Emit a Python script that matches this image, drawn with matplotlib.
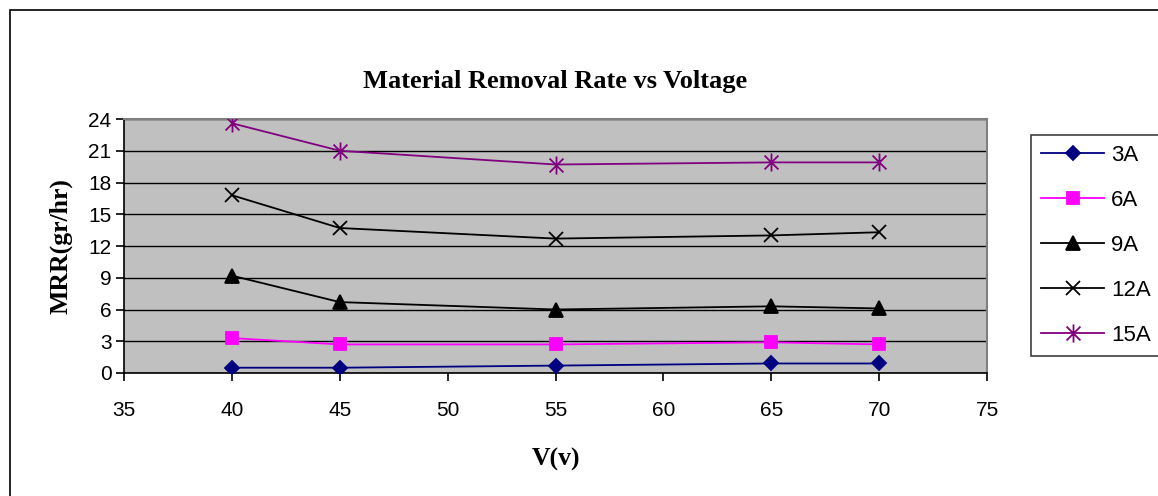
import numpy as np
import matplotlib.pyplot as plt
from matplotlib.path import Path
from matplotlib.patches import Rectangle

voltage = [40, 45, 55, 65, 70]
mrr_3A = [0.5, 0.5, 0.7, 0.9, 0.9]
mrr_6A = [3.3, 2.7, 2.7, 2.9, 2.7]
mrr_9A = [9.2, 6.7, 6.0, 6.3, 6.1]
mrr_12A = [16.8, 13.7, 12.7, 13.0, 13.3]
mrr_15A = [23.6, 21.0, 19.7, 19.9, 19.9]

xticks = [35, 40, 45, 50, 55, 60, 65, 70, 75]
yticks = [0, 3, 6, 9, 12, 15, 18, 21, 24]

# excel style asterisk: x plus a vertical bar
star = Path([(-1, -1), (1, 1), (-1, 1), (1, -1), (0, -1.3), (0, 1.3)],
            [Path.MOVETO, Path.LINETO, Path.MOVETO, Path.LINETO, Path.MOVETO, Path.LINETO])

fig = plt.figure(figsize=(11.58, 4.96), dpi=100)
ax = fig.add_axes([124/1158, 1 - 373/496, (987-124)/1158, (373-119)/496])
ax.set_facecolor('#C0C0C0')

series = [
    ('3A', mrr_3A, '#000080', 'D', 7, '#000080'),
    ('6A', mrr_6A, '#FF00FF', 's', 9, '#FF00FF'),
    ('9A', mrr_9A, 'black', '^', 10, 'black'),
    ('12A', mrr_12A, 'black', 'x', 10, 'black'),
    ('15A', mrr_15A, '#800080', star, 13, '#800080'),
]
for name, vals, col, mk, ms, fc in series:
    ax.plot(voltage, vals, color=col, lw=1.3, marker=mk, markersize=ms,
            markerfacecolor=fc, markeredgecolor=col, markeredgewidth=1.3, label=name, zorder=3)

ax.set_xlim(35, 75)
ax.set_ylim(0, 24)
ax.set_xticks(xticks)
ax.set_yticks(yticks)
ax.yaxis.grid(True, color='black', lw=1.0)
ax.set_axisbelow(True)
for s in ['top', 'right']:
    ax.spines[s].set_color('#808080')
    ax.spines[s].set_linewidth(1.5)
for s in ['left', 'bottom']:
    ax.spines[s].set_color('black')
    ax.spines[s].set_linewidth(1.2)
ax.tick_params(axis='both', direction='out', length=6, width=1.2, labelsize=15,
               labelfontfamily='Liberation Sans')
ax.tick_params(axis='x', pad=14)
ax.tick_params(axis='y', pad=3)

ax.set_title('Material Removal Rate vs Voltage', fontfamily='Liberation Serif',
             fontweight='bold', fontsize=19, pad=22)
ax.set_xlabel('V(v)', fontfamily='Liberation Serif', fontweight='bold', fontsize=18.5, labelpad=20)
ax.set_ylabel('MRR(gr/hr)', fontfamily='Liberation Serif', fontweight='bold', fontsize=18.5, labelpad=11)

leg = fig.legend(loc='upper left', bbox_to_anchor=(1031/1158, 1 - 135/496),
                 prop={'family': 'Liberation Sans', 'size': 16}, fancybox=False,
                 edgecolor='#404040', framealpha=1, handlelength=2.85,
                 labelspacing=1.08, borderpad=0.45, handletextpad=0.3,
                 borderaxespad=0)
leg.get_frame().set_linewidth(1.2)

fig.patches.append(Rectangle((10/1158, -0.05), 1.1, 1 - 10/496 + 0.05, transform=fig.transFigure,
                             fill=False, edgecolor='black', lw=1.2))

fig.savefig('out.png', dpi=100)
